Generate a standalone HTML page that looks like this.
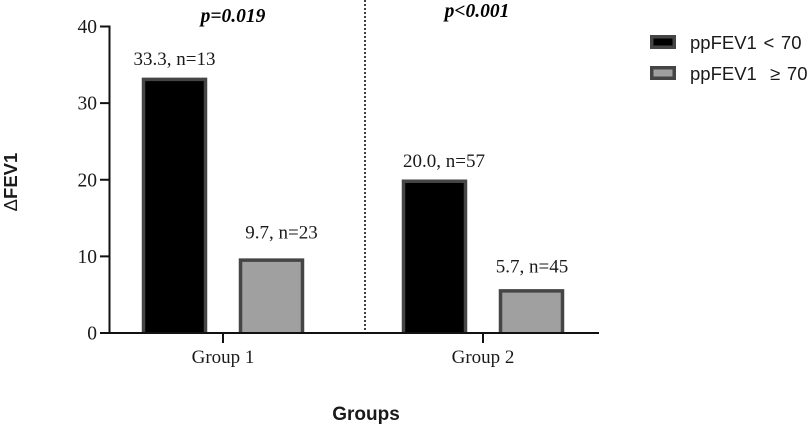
<!DOCTYPE html>
<html lang="en">
<head>
<meta charset="utf-8">
<title>Delta FEV1 by group</title>
<style>
html,body{margin:0;padding:0;background:#fff;width:809px;height:427px;overflow:hidden}
svg{display:block;filter:blur(0.35px)}
.serif{font-family:"Liberation Serif",serif;font-size:19px;fill:#1a1a1a}
.sans{font-family:"Liberation Sans",sans-serif;fill:#1a1a1a}
</style>
</head>
<body>
<svg id="chart" width="809" height="427" viewBox="0 0 809 427" xmlns="http://www.w3.org/2000/svg"></svg>
<script>
const categories = ['Group 1', 'Group 2'];
const seriesNames = ['ppFEV1 < 70', 'ppFEV1  \u2265 70'];
const lowFev = [33.3, 20.0];
const highFev = [9.7, 5.7];
const lowN = [13, 57];
const highN = [23, 45];
const pValues = ['p=0.019', 'p<0.001'];
const yTicks = [0, 10, 20, 30, 40];

const svg = document.getElementById('chart');
const NS = 'http://www.w3.org/2000/svg';
function yScale(v) { return 333 - (v / 40) * 306.5; }
function groupX(i) { return 223 + i * 260; }
function make(tag, attrs, parent) {
  const el = document.createElementNS(NS, tag);
  for (const k in attrs) el.setAttribute(k, attrs[k]);
  (parent || svg).appendChild(el);
  return el;
}

// Bars and value labels
const BAR_W = 62;
const OFFSET = 48.5;
const BAR_STROKE = 3.5;
function drawBar(value, n, cx, fill, name, dx, gap) {
  const top = yScale(value);
  const left = cx - BAR_W / 2;
  const right = cx + BAR_W / 2;
  const r = make('path', {d: 'M' + left + ' 333V' + (top + 1.5) + 'H' + right + 'V333', fill: fill, stroke: '#454545', 'stroke-width': BAR_STROKE});
  
  
  const t = make('text', {x: cx + dx, y: top - gap, 'text-anchor': 'middle', class: 'serif'});
  t.textContent = value.toFixed(1) + ', n=' + n;
  
  
}
categories.forEach(function (c, i) {
  const key = 'group-' + (i + 1);
  drawBar(lowFev[i], lowN[i], groupX(i) - OFFSET, '#000', key + '-low', i === 0 ? 0 : 9.5, 13);
  drawBar(highFev[i], highN[i], groupX(i) + OFFSET, '#a0a0a0', key + '-high', i === 0 ? 10 : 0.5, i === 0 ? 20 : 17);
  const tick = make('line', {x1: groupX(i), x2: groupX(i), y1: 333, y2: 343, stroke: '#111', 'stroke-width': 2});
  
  
  const lab = make('text', {x: groupX(i), y: 363, 'text-anchor': 'middle', class: 'serif'});
  lab.textContent = c;
  
  
  const p = make('text', {x: groupX(i) + (i === 0 ? 10 : -6), y: i === 0 ? 22 : 17, 'text-anchor': 'middle', class: 'serif', 'font-weight': 'bold', 'font-style': 'italic', style: 'font-size:19.5px;fill:#000'});
  p.textContent = pValues[i];
  
  
});

// Divider
const divider = make('line', {x1: 365, x2: 365, y1: 0, y2: 333, stroke: '#111', 'stroke-width': 1.6, 'stroke-dasharray': '2 2'});



// Axes
const yAxis = make('line', {x1: 109.5, x2: 109.5, y1: yScale(40) - 1, y2: 334, stroke: '#111', 'stroke-width': 2});


const xAxis = make('line', {x1: 100, x2: 599, y1: 333, y2: 333, stroke: '#111', 'stroke-width': 2});


yTicks.forEach(function (v) {
  const tick = make('line', {x1: 100, x2: 110, y1: yScale(v), y2: yScale(v), stroke: '#111', 'stroke-width': 2});
  
  
  const lab = make('text', {x: 97, y: yScale(v) + 6.5, 'text-anchor': 'end', class: 'serif', style: 'font-size:19.5px'});
  lab.textContent = v;
  
  
});

// Axis titles
const yTitle = make('text', {transform: 'translate(17,182) rotate(-90)', 'text-anchor': 'middle', class: 'sans', 'font-weight': 'bold', 'font-size': 18.5});


const delta = make('tspan', {'font-weight': 'normal'}, yTitle);
delta.textContent = '\u0394';
const yTitleRest = make('tspan', {}, yTitle);
yTitleRest.textContent = 'FEV1';
const xTitle = make('text', {x: 366, y: 420, 'text-anchor': 'middle', class: 'sans', 'font-weight': 'bold', 'font-size': 19});
xTitle.textContent = 'Groups';



// Legend
const legendFills = ['#000', '#a0a0a0'];
seriesNames.forEach(function (s, i) {
  const yy = 36.75 + i * 31;
  const swatch = make('rect', {x: 651.75, y: yy, width: 22.5, height: 10.5, fill: legendFills[i], stroke: '#454545', 'stroke-width': 3.5});
  
  
  const t = make('text', {x: 690, y: 49 + i * 31, class: 'sans', 'font-size': 18.5, style: 'white-space:pre;word-spacing:1.5px'});
  t.textContent = s;
  
  
});
</script>
</body>
</html>
